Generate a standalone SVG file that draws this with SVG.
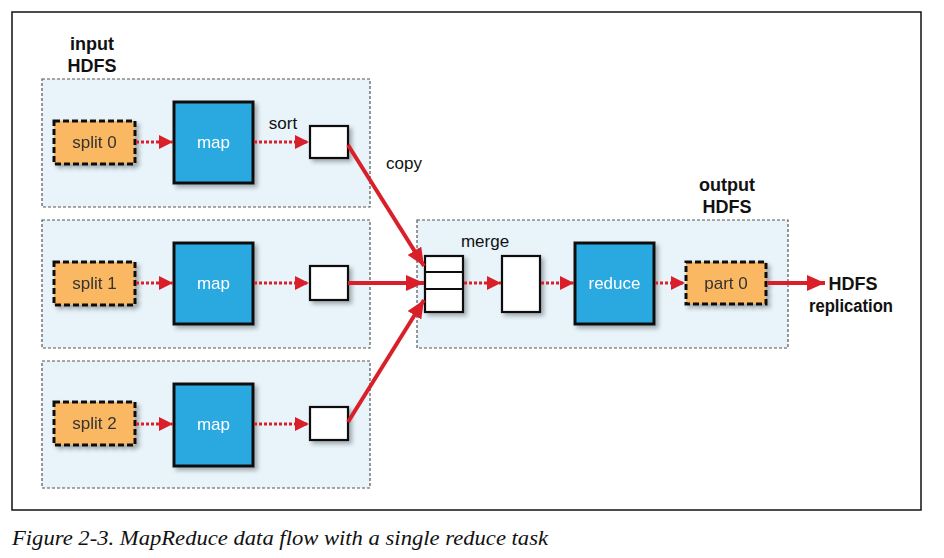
<svg xmlns="http://www.w3.org/2000/svg" width="944" height="558" viewBox="0 0 944 558">
  <style>
    .panel { fill: #e8f4fa; stroke: #555; stroke-width: 1.2; stroke-dasharray: 3 2; }
    .split { fill: #fbb862; stroke: #111; stroke-width: 3; stroke-dasharray: 6 3; }
    .task { fill: #29a8e0; stroke: #111; stroke-width: 3; }
    .buf { fill: #fff; stroke: #111; stroke-width: 2.2; }
    .lbl { font-family: "Liberation Sans Narrow", "Liberation Sans", sans-serif; font-size: 17px; text-anchor: middle; }
    .dark { fill: #333; }
    .light { fill: #fff; }
    .head { font-family: "Liberation Sans Narrow", "Liberation Sans", sans-serif; font-size: 18px; font-weight: bold; text-anchor: middle; fill: #111; }
    .dot { stroke: #d9202a; stroke-width: 3; stroke-dasharray: 3 2; fill: none; marker-end: url(#tri); }
    .solid { stroke: #d9202a; stroke-width: 4; fill: none; marker-end: url(#triBig); }
  </style>
  <defs>
    <filter id="shadow" x="-20%" y="-20%" width="150%" height="150%">
      <feDropShadow dx="3" dy="3" stdDeviation="2" flood-color="#000" flood-opacity="0.3"/>
    </filter>
    <marker id="tri" viewBox="0 0 14 14" refX="14" refY="7" markerWidth="14" markerHeight="14" markerUnits="userSpaceOnUse" orient="auto">
      <path d="M0,0 L14,7 L0,14 z" fill="#d9202a"/>
    </marker>
    <marker id="triBig" viewBox="0 0 18 16" refX="18" refY="8" markerWidth="18" markerHeight="16" markerUnits="userSpaceOnUse" orient="auto">
      <path d="M0,0 L18,8 L0,16 z" fill="#d9202a"/>
    </marker>
  </defs>

  <rect x="0" y="0" width="944" height="558" fill="#fff"/>
  <!-- figure frame -->
  <rect x="12" y="12" width="909" height="498" fill="none" stroke="#111" stroke-width="1.5"/>

  <!-- map-side panels -->
  <g id="panel-0"><rect class="panel" x="42" y="79" width="328" height="128"/></g>
  <g id="panel-1"><rect class="panel" x="42" y="220" width="328" height="128"/></g>
  <g id="panel-2"><rect class="panel" x="42" y="361" width="328" height="127"/></g>
  <!-- reduce-side panel -->
  <g id="panel-out"><rect class="panel" x="417" y="220" width="371" height="128"/></g>

  <g id="input-label">
    <text class="head" x="92" y="50">input</text>
    <text class="head" x="92" y="72">HDFS</text>
  </g>
  <g id="output-label">
    <text class="head" x="727" y="191">output</text>
    <text class="head" x="727" y="213">HDFS</text>
  </g>

  <!-- row 0 -->
  <g id="split-0" filter="url(#shadow)">
    <rect class="split" x="54" y="121" width="81" height="43"/>
    <text class="lbl dark" x="94.5" y="148">split 0</text>
  </g>
  <g id="map-0" filter="url(#shadow)">
    <rect class="task" x="174" y="102" width="79" height="81"/>
    <text class="lbl light" x="213.5" y="148">map</text>
  </g>
  <g id="sort-0" filter="url(#shadow)"><rect class="buf" x="310" y="126" width="38" height="32"/></g>
  <text class="lbl" x="283" y="129" fill="#111">sort</text>

  <!-- row 1 -->
  <g id="split-1" filter="url(#shadow)">
    <rect class="split" x="54" y="262" width="81" height="43"/>
    <text class="lbl dark" x="94.5" y="289">split 1</text>
  </g>
  <g id="map-1" filter="url(#shadow)">
    <rect class="task" x="174" y="243" width="79" height="81"/>
    <text class="lbl light" x="213.5" y="289">map</text>
  </g>
  <g id="sort-1" filter="url(#shadow)"><rect class="buf" x="310" y="266" width="38" height="34"/></g>

  <!-- row 2 -->
  <g id="split-2" filter="url(#shadow)">
    <rect class="split" x="54" y="402" width="81" height="43"/>
    <text class="lbl dark" x="94.5" y="429">split 2</text>
  </g>
  <g id="map-2" filter="url(#shadow)">
    <rect class="task" x="174" y="384" width="79" height="82"/>
    <text class="lbl light" x="213.5" y="430">map</text>
  </g>
  <g id="sort-2" filter="url(#shadow)"><rect class="buf" x="310" y="407" width="38" height="33"/></g>

  <!-- reduce side -->
  <g id="merge-in" filter="url(#shadow)">
    <rect class="buf" x="425" y="256" width="38" height="56"/>
    <line x1="425" y1="272" x2="463" y2="272" stroke="#111" stroke-width="2"/>
    <line x1="425" y1="289" x2="463" y2="289" stroke="#111" stroke-width="2"/>
  </g>
  <text class="lbl" x="485" y="247" fill="#111">merge</text>
  <g id="merged" filter="url(#shadow)"><rect class="buf" x="502" y="256" width="38" height="56"/></g>
  <g id="reduce" filter="url(#shadow)">
    <rect class="task" x="575" y="243" width="79" height="81"/>
    <text class="lbl light" x="614.5" y="289">reduce</text>
  </g>
  <g id="part-0" filter="url(#shadow)">
    <rect class="split" x="686" y="262" width="80" height="42"/>
    <text class="lbl dark" x="726" y="289">part 0</text>
  </g>
  <g id="replication-label">
    <text class="head" x="853" y="290">HDFS</text>
    <text class="head" x="851" y="312" textLength="84" lengthAdjust="spacingAndGlyphs">replication</text>
  </g>
  <text class="lbl" x="404" y="169" fill="#111">copy</text>

  <!-- connectors -->
  <g id="connectors">
    <line class="dot" x1="136" y1="142" x2="173" y2="142"/>
    <line class="dot" x1="254" y1="142" x2="309" y2="142"/>
    <line class="dot" x1="136" y1="283" x2="173" y2="283"/>
    <line class="dot" x1="254" y1="283" x2="309" y2="283"/>
    <line class="dot" x1="136" y1="424" x2="173" y2="424"/>
    <line class="dot" x1="254" y1="424" x2="309" y2="424"/>
    <line class="solid" x1="348" y1="145" x2="424" y2="266"/>
    <line class="solid" x1="348" y1="283" x2="424" y2="283"/>
    <line class="solid" x1="348" y1="422" x2="424" y2="300"/>
    <line class="dot" x1="464" y1="283" x2="501" y2="283"/>
    <line class="dot" x1="541" y1="283" x2="574" y2="283"/>
    <line class="dot" x1="655" y1="283" x2="685" y2="283"/>
    <line class="solid" x1="767" y1="283" x2="825" y2="283"/>
  </g>

  <text x="12" y="545" font-family="Liberation Serif, serif" font-style="italic" font-size="20" fill="#111" textLength="536" lengthAdjust="spacingAndGlyphs">Figure 2-3. MapReduce data flow with a single reduce task</text>
</svg>
